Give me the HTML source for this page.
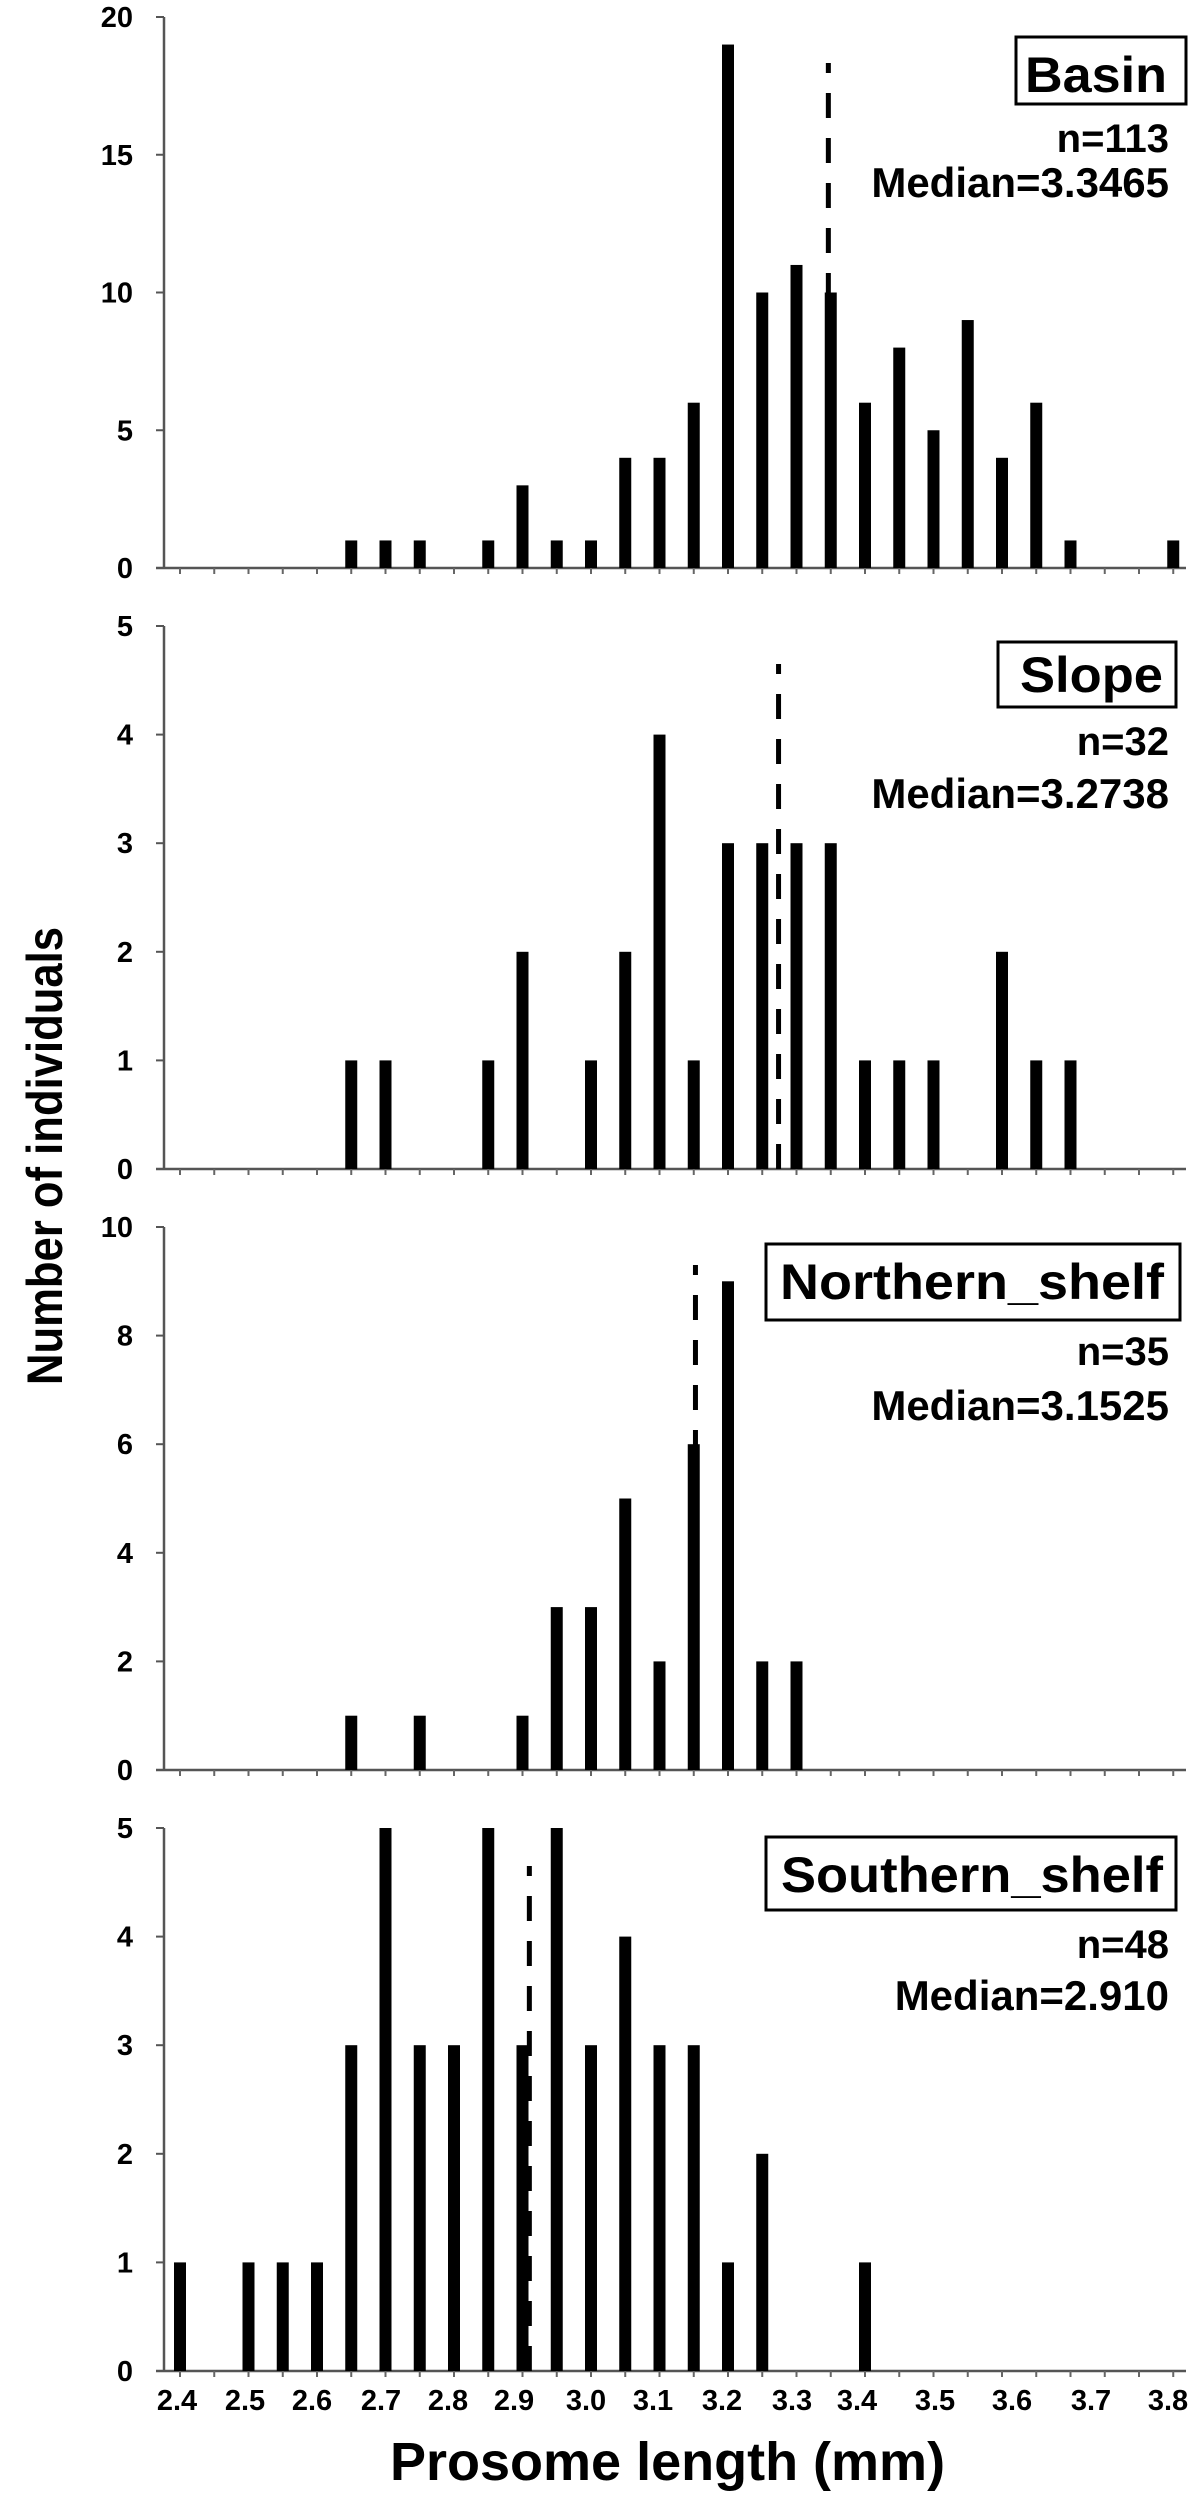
<!DOCTYPE html>
<html><head><meta charset="utf-8"><style>
html,body{margin:0;padding:0;background:#fff;}
svg{display:block;font-family:"Liberation Sans",Arial,sans-serif;font-weight:bold;}
</style></head>
<body>
<svg id="chart" width="1194" height="2500" viewBox="0 0 1194 2500" xmlns="http://www.w3.org/2000/svg"></svg>
<script>
// ---- data ----
const basinBins = [2.65,2.7,2.75,2.85,2.9,2.95,3.0,3.05,3.1,3.15,3.2,3.25,3.3,3.35,3.4,3.45,3.5,3.55,3.6,3.65,3.7,3.85];
const basinCounts = [1,1,1,1,3,1,1,4,4,6,19,10,11,10,6,8,5,9,4,6,1,1];
const slopeBins = [2.65,2.7,2.85,2.9,3.0,3.05,3.1,3.15,3.2,3.25,3.3,3.35,3.4,3.45,3.5,3.6,3.65,3.7];
const slopeCounts = [1,1,1,2,1,2,4,1,3,3,3,3,1,1,1,2,1,1];
const northBins = [2.65,2.75,2.9,2.95,3.0,3.05,3.1,3.15,3.2,3.25,3.3];
const northCounts = [1,1,1,3,3,5,2,6,9,2,2];
const southBins = [2.4,2.5,2.55,2.6,2.65,2.7,2.75,2.8,2.85,2.9,2.95,3.0,3.05,3.1,3.15,3.2,3.25,3.4];
const southCounts = [1,1,1,1,3,5,3,3,5,3,5,3,4,3,3,1,2,1];
const medians = [3.3465, 3.2738, 3.1525, 2.910];
const medianLabels = ["Median=3.3465","Median=3.2738","Median=3.1525","Median=2.910"];
const nLabels = ["n=113","n=32","n=35","n=48"];
const panelNames = ["Basin","Slope","Northern_shelf","Southern_shelf"];
const basinTicks = [0,5,10,15,20];
const slopeTicks = [0,1,2,3,4,5];
const northTicks = [0,2,4,6,8,10];
const southTicks = [0,1,2,3,4,5];
const xTickLabels = ["2.4","2.5","2.6","2.7","2.8","2.9","3.0","3.1","3.2","3.3","3.4","3.5","3.6","3.7","3.8"];

// ---- layout ----
const NS = "http://www.w3.org/2000/svg";
const svg = document.getElementById('chart');
const axisX0 = 164, axisX1 = 1186;
function xScale(v){ return 180 + (v - 2.4) * 685; }
// label placement in the original drifts slightly from the bar grid
const labelPx = [177,245,312,381,448,514,586,653,722,792,857,935,1012,1091,1168];
function labelX(v){
  const f = (v - 2.4) / 0.1;
  let i = Math.max(0, Math.min(labelPx.length - 2, Math.floor(f)));
  return labelPx[i] + (f - i) * (labelPx[i+1] - labelPx[i]);
}
const panels = [
  {key:'basin', bins:basinBins, counts:basinCounts, ticks:basinTicks, base:568, top:17, box:[1016,37,170,67], titleX:[1025,142], titleY:92, nY:152, mY:197},
  {key:'slope', bins:slopeBins, counts:slopeCounts, ticks:slopeTicks, base:1169, top:626, box:[998,642,178,65], titleX:[1020,143], titleY:692, nY:755, mY:808},
  {key:'northern-shelf', bins:northBins, counts:northCounts, ticks:northTicks, base:1770, top:1227, box:[766,1244,414,76], titleX:[780,384], titleY:1299, nY:1365, mY:1420},
  {key:'southern-shelf', bins:southBins, counts:southCounts, ticks:southTicks, base:2371, top:1828, box:[766,1837,410,73], titleX:[781,382], titleY:1892, nY:1958, mY:2010}
];
function mk(tag, attrs){ const e=document.createElementNS(NS,tag); for(const k in attrs) e.setAttribute(k,attrs[k]); return e; }

panels.forEach((p, pi) => {
  const g = mk('g',{});
  
  
  svg.appendChild(g);
  const maxV = p.ticks[p.ticks.length-1];
  const yScale = v => p.base - v * (p.base - p.top) / maxV;

  const ya = mk('line',{x1:axisX0,y1:p.top,x2:axisX0,y2:p.base,stroke:'#555','stroke-width':2.5});
  
  
  g.appendChild(ya);
  p.ticks.forEach(t => {
    const y = yScale(t);
    g.appendChild(mk('line',{x1:axisX0-8,y1:y,x2:axisX0,y2:y,stroke:'#555','stroke-width':2}));
    const tl = mk('text',{x:133,y:y+10,'text-anchor':'end','font-size':29,fill:'#000'});
    tl.textContent = t;
    
    
    g.appendChild(tl);
  });
  const xa = mk('line',{x1:axisX0-8,y1:p.base,x2:axisX1,y2:p.base,stroke:'#555','stroke-width':2.5});
  
  
  g.appendChild(xa);
  for(let i=0;i<=30;i++){
    const x = xScale(2.4 + i*0.05);
    g.appendChild(mk('line',{x1:x,y1:p.base,x2:x,y2:p.base+6,stroke:'#666','stroke-width':2}));
  }
  p.bins.forEach((b,i) => {
    const x = xScale(b), y = yScale(p.counts[i]);
    const r = mk('rect',{x:x-6,y:y,width:12,height:p.base-y,fill:'#000'});
    
    
    g.appendChild(r);
  });
  const mx = xScale(medians[pi]);
  const ml = mk('line',{x1:mx,y1:p.base,x2:mx,y2:p.base-505,stroke:'#000','stroke-width':5,'stroke-dasharray':'25 20'});
  
  
  g.appendChild(ml);
  const bx = mk('rect',{x:p.box[0],y:p.box[1],width:p.box[2],height:p.box[3],fill:'#fff',stroke:'#000','stroke-width':3});
  
  
  g.appendChild(bx);
  const tt = mk('text',{x:p.titleX[0],y:p.titleY,'font-size':50,textLength:p.titleX[1],lengthAdjust:'spacingAndGlyphs',fill:'#000'});
  tt.textContent = panelNames[pi];
  
  
  g.appendChild(tt);
  const nt = mk('text',{x:1169,y:p.nY,'text-anchor':'end','font-size':40,fill:'#000'});
  nt.textContent = nLabels[pi];
  
  
  g.appendChild(nt);
  const mt = mk('text',{x:1169,y:p.mY,'text-anchor':'end','font-size':42,fill:'#000'});
  mt.textContent = medianLabels[pi];
  
  
  g.appendChild(mt);
});

xTickLabels.forEach(l => {
  const t = mk('text',{x:labelX(parseFloat(l)),y:2410,'text-anchor':'middle','font-size':29,fill:'#000'});
  t.textContent = l;
  
  
  svg.appendChild(t);
});
const xt = mk('text',{x:390,y:2480,'font-size':54,fill:'#000'});
xt.textContent = 'Prosome length (mm)';


svg.appendChild(xt);
const yt = mk('text',{x:0,y:0,'font-size':50,'text-anchor':'middle',textLength:458,lengthAdjust:'spacingAndGlyphs',fill:'#000',transform:'translate(62,1156) rotate(-90)'});
yt.textContent = 'Number of individuals';


svg.appendChild(yt);
</script>
</body></html>
